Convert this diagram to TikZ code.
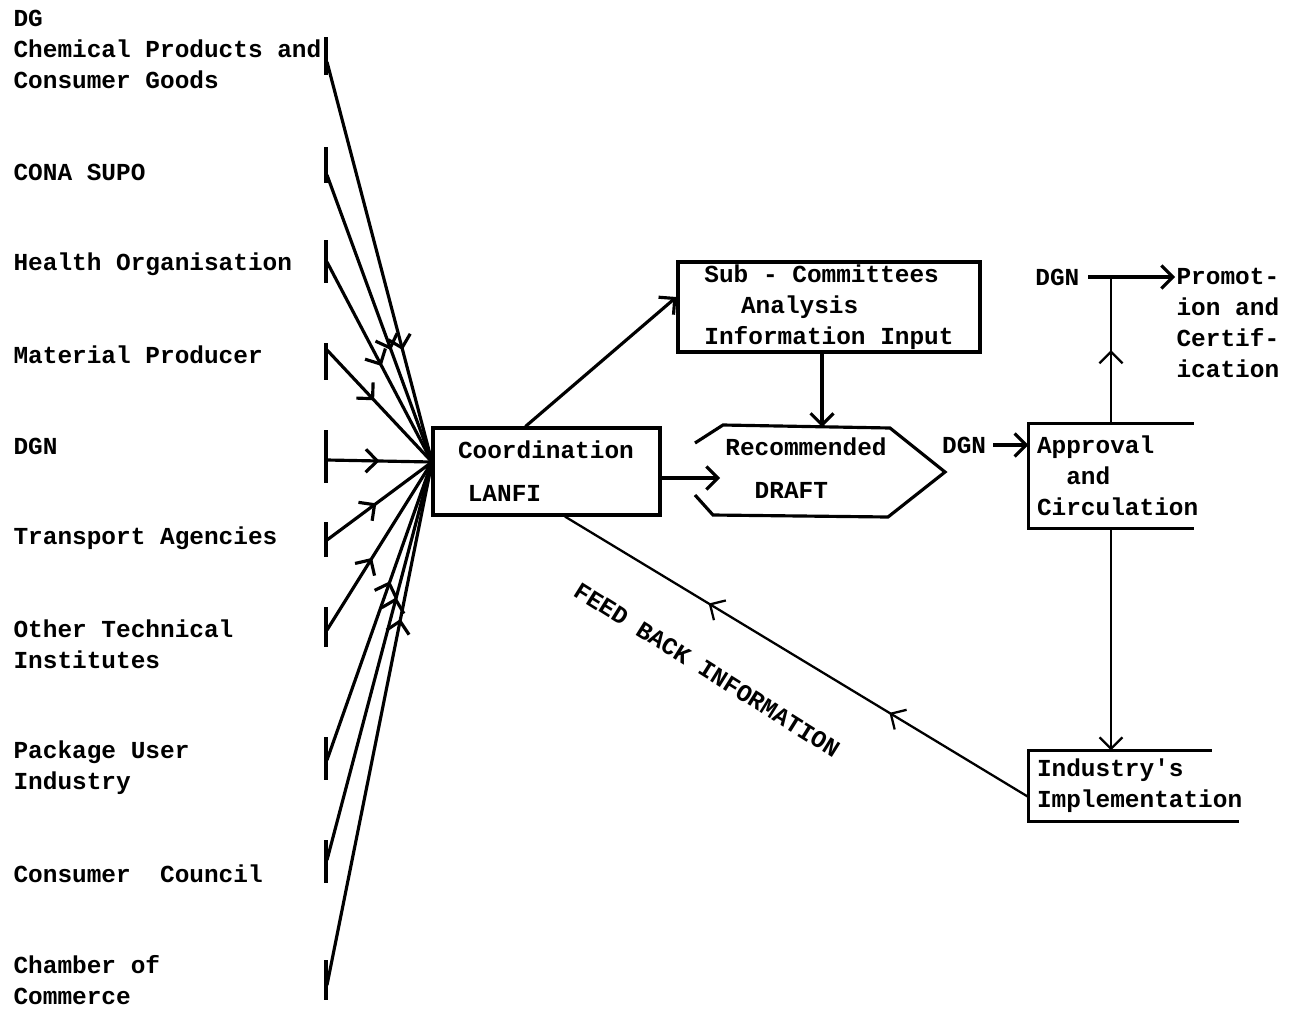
\documentclass[tikz,border=0pt]{standalone}
\usepackage{fontspec}
\newfontfamily\typewr{Liberation Mono}
\usetikzlibrary{positioning,arrows.meta,decorations.markings}

\tikzset{
  arr/.style={-{Straight Barb[length=2.3mm,width=4.6mm]}},
  midarr/.style={postaction={decorate,decoration={markings,
      mark=at position #1 with {\arrow{Straight Barb[length=2.3mm,width=4.6mm]}}}}},
  box/.style={draw, rectangle, line width=1.8pt, inner ysep=0pt, align=left},
  txt/.style={inner sep=0pt, align=left},
  thin/.style={line width=1.3pt},
}

\begin{document}
\begin{tikzpicture}[x=0.02cm, y=-0.02cm, line width=1.8pt,
    every node/.style={font=\typewr\bfseries\fontsize{13.9}{17.6}\selectfont}]
\useasboundingbox (0,0) rectangle (1298,1011);

    % Sources (left column)
    \foreach \i/\y/\txt in {1/49.5/{DG\\Chemical Products and\\Consumer Goods},
                            2/172/{CONA SUPO},
                            3/264/{Health Organisation},
                            4/355/{Material Producer},
                            5/446/{DGN},
                            6/538/{Transport Agencies},
                            7/644.5/{Other Technical\\Institutes},
                            8/767.5/{Package User\\Industry},
                            9/874/{Consumer\ \ Council},
                            10/980.5/{Chamber of\\Commerce}} {
        \node[txt, anchor=west] (lab\i) at (12,\y) {\txt};
    }

    % Ticks and lines into the hub
    \coordinate (hub) at (432,462);
    \foreach \i/\y/\a/\b/\p in {1/62/37/75/0.72, 2/175/147/183/0.61,
                                3/262/240/283/0.52, 4/350/343/380/0.45,
                                5/460/430/483/0.5, 6/540/522/557/0.47,
                                7/630/607/647/0.43, 8/760/737/780/0.6,
                                9/860/840/883/0.66, 10/985/960/1000/0.7} {
        \draw (326,\a) -- (326,\b);
        \coordinate (t\i) at (327,\y);
        \draw[midarr=\p] (t\i) -- (hub);
    }

    % Coordination and sub-committees
    \node[box, text width=3.54cm, inner xsep=0.5cm, minimum height=1.74cm] (coord) at (546.5,471.5)
        {Coordination\\[7pt]\hspace{0.4em}LANFI};
    \node[box, minimum width=6.04cm, minimum height=1.8cm] (sub) at (829,307)
        {Sub - Committees\\\hspace{1.5em}Analysis\\Information Input};
    \draw[arr] ([xshift=-0.42cm]coord.north) -- ([yshift=0.2cm]sub.west);

    % Recommended draft
    \coordinate (d1) at (695,443);
    \coordinate (d2) at (723,425);
    \coordinate (d3) at (890,428);
    \coordinate (d4) at (945,472);
    \coordinate (d5) at (888,517);
    \coordinate (d6) at (713,515);
    \coordinate (d7) at (695,495);
    \draw (d1) -- (d2) -- (d3) -- (d4) -- (d5) -- (d6) -- (d7);
    \node[txt] (draft) at (806,468) {Recommended\\[7pt]\hspace{1.2em}DRAFT};
    \coordinate (dtip) at (720,478);
    \coordinate (dtop) at (822,427);
    \draw[arr] (coord.east |- dtip) -- (dtip);
    \draw[arr] (dtop |- sub.south) -- (dtop);

    % Approval and circulation
    \node[txt, anchor=east, inner xsep=3pt] (dgnA) at (993,445) {DGN};
    \node[txt, text width=2.96cm, inner xsep=0.14cm, minimum height=2.04cm] (appr) at (1111,476)
        {Approval\\\hspace{1.2em}and\\Circulation};
    \draw (appr.north east) -- (appr.north west) -- (appr.south west) -- (appr.south east);
    \draw[arr] (dgnA.east) -- (dgnA.east -| appr.west);

    % Promotion and certification
    \node[txt, anchor=east, inner xsep=4pt] (dgnB) at (1088,277) {DGN};
    \node[txt, anchor=north west] (promo) at (1175,267) {Promot-\\ion and\\Certif-\\ication};
    \draw[arr] (dgnB.east) -- (dgnB.east -| promo.west);
    \draw[thin, midarr=0.5] (appr.north) -- (appr.north |- dgnB);

    % Industry's implementation and feed back
    \node[txt, text width=3.86cm, inner xsep=0.14cm, minimum height=1.36cm] (ind) at (1133.5,786)
        {Industry\textquotesingle s\\Implementation};
    \draw ([xshift=-0.54cm]ind.north east) -- (ind.north west) -- (ind.south west) -- (ind.south east);
    \draw[arr, thin] (appr.south) -- (appr.south |- ind.north);
    \draw[thin, midarr=0.3, midarr=0.69] ([yshift=-0.22cm]ind.west) -- ([xshift=0.37cm]coord.south);
    \node[rotate=-32] (fb) at (707,670) {FEED BACK INFORMATION};
\end{tikzpicture}
\end{document}
